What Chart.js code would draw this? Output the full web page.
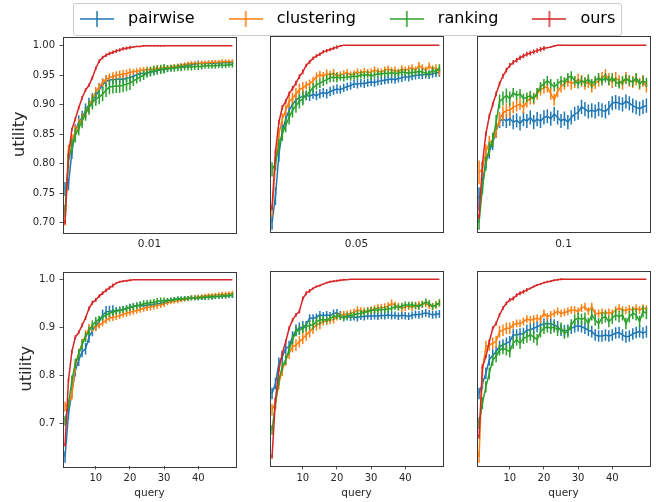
<!DOCTYPE html>
<html><head><meta charset="utf-8">
<script src="https://cdn.jsdelivr.net/npm/chart.js@4/dist/chart.umd.min.js"></script>
<style>
html,body{margin:0;padding:0;background:#fff;}
body{width:656px;height:502px;position:relative;overflow:hidden;font-family:'DejaVu Sans';}
canvas{position:absolute;}
#legendBox{position:absolute;left:73px;top:3px;width:547px;height:31px;border:1px solid #cccccc;border-radius:3px;background:rgba(255,255,255,0.8);}
</style></head><body>
<div id="legendBox"></div>
<canvas id="p0"></canvas><canvas id="p1"></canvas><canvas id="p2"></canvas>
<canvas id="p3"></canvas><canvas id="p4"></canvas><canvas id="p5"></canvas>
<canvas id="legend"></canvas>
<script>
// ---------------- data ----------------
const seriesNames = ['pairwise','clustering','ranking','ours'];
const topTitles = ['0.01','0.05','0.1'];
const xLabel = 'query';
const yLabel = 'utility';
const topYTicks = [0.70,0.75,0.80,0.85,0.90,0.95,1.00];
const bottomYTicks = [0.7,0.8,0.9,1.0];
const bottomXTicks = [10,20,30,40];
const queries = [1,2,3,4,5,6,7,8,9,10,11,12,13,14,15,16,17,18,19,20,21,22,23,24,25,26,27,28,29,30,31,32,33,34,35,36,37,38,39,40,41,42,43,44,45,46,47,48,49,50];

// top row, 0.01
const top001Pairwise = [
0.757,0.765,0.820,0.855,0.870,0.878,0.890,0.900,0.908,0.915,
0.925,0.934,0.940,0.942,0.943,0.943,0.944,0.943,0.945,0.946,
0.948,0.951,0.953,0.953,0.954,0.955,0.956,0.958,0.959,0.960,
0.961,0.962,0.963,0.964,0.965,0.966,0.967,0.968,0.969,0.970,
0.970,0.970,0.971,0.970,0.971,0.971,0.971,0.972,0.971,0.972];
const top001Clustering = [
0.700,0.822,0.840,0.855,0.866,0.876,0.886,0.896,0.910,0.922,
0.930,0.938,0.943,0.946,0.948,0.950,0.951,0.952,0.953,0.955,
0.956,0.957,0.958,0.959,0.960,0.960,0.961,0.962,0.962,0.963,
0.963,0.964,0.965,0.966,0.967,0.968,0.969,0.970,0.970,0.970,
0.971,0.971,0.971,0.972,0.972,0.972,0.973,0.973,0.973,0.973];
const top001Ranking = [
0.720,0.805,0.830,0.848,0.860,0.872,0.885,0.895,0.904,0.910,
0.913,0.918,0.925,0.930,0.931,0.932,0.932,0.933,0.935,0.937,
0.940,0.944,0.947,0.950,0.954,0.956,0.958,0.959,0.960,0.961,
0.961,0.962,0.962,0.963,0.963,0.964,0.964,0.964,0.965,0.965,
0.965,0.966,0.966,0.966,0.966,0.967,0.967,0.967,0.968,0.968];
const top001Ours = [
0.700,0.815,0.858,0.876,0.895,0.912,0.925,0.933,0.946,0.962,
0.974,0.980,0.984,0.987,0.989,0.991,0.993,0.995,0.996,0.997,
0.998,0.999,0.999,1.000,1.000,1.000,1.000,1.000,1.000,1.000,
1.000,1.000,1.000,1.000,1.000,1.000,1.000,1.000,1.000,1.000,
1.000,1.000,1.000,1.000,1.000,1.000,1.000,1.000,1.000,1.000];
const top001PairwiseErr = [
0.012,0.010,0.012,0.012,0.012,0.012,0.012,0.012,0.012,0.012,
0.012,0.010,0.010,0.008,0.008,0.008,0.008,0.008,0.007,0.007,
0.006,0.006,0.006,0.006,0.006,0.006,0.006,0.006,0.006,0.006,
0.005,0.005,0.005,0.005,0.005,0.005,0.005,0.005,0.005,0.005,
0.004,0.004,0.004,0.004,0.004,0.004,0.004,0.004,0.004,0.004];
const top001ClusteringErr = [
0.005,0.010,0.010,0.010,0.010,0.010,0.010,0.010,0.008,0.008,
0.007,0.007,0.007,0.007,0.007,0.007,0.007,0.007,0.007,0.007,
0.005,0.005,0.005,0.005,0.005,0.005,0.005,0.005,0.005,0.005,
0.004,0.004,0.004,0.004,0.004,0.004,0.004,0.004,0.004,0.004,
0.004,0.004,0.004,0.004,0.004,0.004,0.004,0.004,0.004,0.004];
const top001RankingErr = [
0.010,0.012,0.012,0.012,0.012,0.012,0.012,0.012,0.012,0.012,
0.012,0.012,0.012,0.012,0.012,0.012,0.012,0.012,0.012,0.012,
0.008,0.008,0.008,0.008,0.008,0.008,0.008,0.008,0.008,0.008,
0.006,0.006,0.006,0.006,0.006,0.006,0.006,0.006,0.006,0.006,
0.005,0.005,0.005,0.005,0.005,0.005,0.005,0.005,0.005,0.005];
const top001OursErr = [
0.003,0.003,0.003,0.003,0.003,0.003,0.003,0.003,0.003,0.003,
0.003,0.003,0.003,0.003,0.003,0.003,0.003,0.003,0.003,0.003,
0.001,0.001,0.001,0.001,0.001,0.001,0.001,0.001,0.001,0.001,
0,0,0,0,0,0,0,0,0,0,
0,0,0,0,0,0,0,0,0,0];

// top row, 0.05
const top005Pairwise = [
0.700,0.745,0.815,0.855,0.875,0.890,0.900,0.907,0.912,0.913,
0.915,0.914,0.917,0.915,0.918,0.920,0.918,0.922,0.924,0.926,
0.925,0.928,0.930,0.932,0.935,0.934,0.936,0.935,0.937,0.938,
0.937,0.939,0.940,0.941,0.942,0.943,0.942,0.944,0.945,0.947,
0.946,0.948,0.949,0.950,0.950,0.951,0.950,0.952,0.953,0.954];
const top005Clustering = [
0.720,0.800,0.850,0.875,0.890,0.905,0.910,0.918,0.925,0.928,
0.932,0.935,0.940,0.947,0.950,0.948,0.952,0.950,0.953,0.948,
0.950,0.952,0.954,0.950,0.952,0.955,0.953,0.956,0.954,0.955,
0.958,0.956,0.955,0.958,0.960,0.957,0.958,0.955,0.960,0.958,
0.960,0.962,0.958,0.966,0.962,0.958,0.965,0.960,0.962,0.955];
const top005Ranking = [
0.790,0.800,0.830,0.850,0.865,0.878,0.890,0.898,0.905,0.910,
0.915,0.922,0.928,0.933,0.936,0.939,0.942,0.945,0.946,0.945,
0.946,0.945,0.947,0.946,0.948,0.947,0.950,0.949,0.951,0.948,
0.950,0.952,0.951,0.953,0.952,0.954,0.952,0.953,0.955,0.954,
0.953,0.955,0.954,0.956,0.955,0.953,0.952,0.958,0.955,0.962];
const top005Ours = [
0.725,0.820,0.870,0.895,0.905,0.918,0.927,0.936,0.947,0.955,
0.966,0.972,0.978,0.982,0.985,0.989,0.991,0.993,0.995,0.997,
0.999,1.000,1.000,1.000,1.000,1.000,1.000,1.000,1.000,1.000,
1.000,1.000,1.000,1.000,1.000,1.000,1.000,1.000,1.000,1.000,
1.000,1.000,1.000,1.000,1.000,1.000,1.000,1.000,1.000,1.000];
const top005PairwiseErr = [
0.012,0.015,0.012,0.012,0.012,0.012,0.012,0.012,0.012,0.012,
0.008,0.008,0.008,0.008,0.008,0.008,0.008,0.008,0.008,0.008,
0.007,0.007,0.007,0.007,0.007,0.007,0.007,0.007,0.007,0.007,
0.007,0.007,0.007,0.007,0.007,0.007,0.007,0.007,0.007,0.007,
0.007,0.007,0.007,0.007,0.007,0.007,0.007,0.007,0.007,0.007];
const top005ClusteringErr = [
0.010,0.010,0.010,0.010,0.010,0.010,0.010,0.010,0.010,0.010,
0.007,0.007,0.007,0.007,0.007,0.007,0.007,0.007,0.007,0.007,
0.006,0.006,0.006,0.006,0.006,0.006,0.006,0.006,0.006,0.006,
0.006,0.006,0.006,0.006,0.006,0.006,0.006,0.006,0.006,0.006,
0.006,0.006,0.006,0.006,0.006,0.006,0.006,0.006,0.006,0.006];
const top005RankingErr = [
0.012,0.012,0.012,0.012,0.012,0.012,0.012,0.012,0.012,0.012,
0.008,0.008,0.008,0.008,0.008,0.008,0.008,0.008,0.008,0.008,
0.006,0.006,0.006,0.006,0.006,0.006,0.006,0.006,0.006,0.006,
0.006,0.006,0.006,0.006,0.006,0.006,0.006,0.006,0.006,0.006,
0.006,0.006,0.006,0.006,0.006,0.006,0.006,0.006,0.006,0.006];
const top005OursErr = [
0.004,0.004,0.004,0.004,0.004,0.004,0.004,0.004,0.004,0.004,
0.003,0.003,0.003,0.003,0.003,0.003,0.003,0.003,0.003,0.003,
0.001,0,0,0,0,0,0,0,0,0,
0,0,0,0,0,0,0,0,0,0,
0,0,0,0,0,0,0,0,0,0];

// top row, 0.1
const top01Pairwise = [
0.740,0.765,0.805,0.820,0.835,0.855,0.872,0.875,0.872,0.876,
0.870,0.873,0.868,0.875,0.872,0.878,0.870,0.875,0.872,0.878,
0.880,0.876,0.884,0.878,0.872,0.876,0.870,0.878,0.884,0.886,
0.896,0.892,0.888,0.890,0.888,0.892,0.890,0.888,0.894,0.902,
0.904,0.902,0.900,0.905,0.902,0.898,0.895,0.893,0.896,0.898];
const top01Clustering = [
0.785,0.790,0.820,0.835,0.840,0.855,0.875,0.885,0.890,0.890,
0.895,0.898,0.900,0.895,0.905,0.910,0.910,0.918,0.925,0.928,
0.930,0.918,0.908,0.922,0.930,0.935,0.940,0.935,0.938,0.942,
0.940,0.935,0.938,0.930,0.936,0.940,0.945,0.950,0.943,0.938,
0.945,0.940,0.935,0.945,0.940,0.938,0.942,0.935,0.940,0.930];
const top01Ranking = [
0.700,0.760,0.800,0.825,0.840,0.870,0.905,0.910,0.915,0.910,
0.920,0.915,0.918,0.910,0.912,0.915,0.910,0.920,0.930,0.935,
0.940,0.935,0.930,0.935,0.940,0.938,0.945,0.948,0.940,0.935,
0.940,0.938,0.943,0.935,0.940,0.945,0.940,0.945,0.940,0.945,
0.938,0.935,0.940,0.943,0.940,0.938,0.945,0.935,0.940,0.937];
const top01Ours = [
0.710,0.800,0.850,0.880,0.900,0.918,0.935,0.948,0.958,0.966,
0.971,0.975,0.979,0.982,0.985,0.987,0.989,0.991,0.993,0.995,
0.996,0.997,0.999,1.000,1.000,1.000,1.000,1.000,1.000,1.000,
1.000,1.000,1.000,1.000,1.000,1.000,1.000,1.000,1.000,1.000,
1.000,1.000,1.000,1.000,1.000,1.000,1.000,1.000,1.000,1.000];
const top01PairwiseErr = [
0.020,0.012,0.012,0.012,0.012,0.012,0.012,0.012,0.012,0.012,
0.012,0.012,0.012,0.012,0.012,0.012,0.012,0.012,0.012,0.012,
0.012,0.012,0.012,0.012,0.012,0.012,0.012,0.012,0.012,0.012,
0.012,0.012,0.012,0.012,0.012,0.012,0.012,0.012,0.012,0.012,
0.012,0.012,0.012,0.012,0.012,0.012,0.012,0.012,0.012,0.012];
const top01ClusteringErr = [
0.020,0.012,0.012,0.012,0.012,0.012,0.012,0.012,0.012,0.012,
0.010,0.010,0.010,0.010,0.010,0.010,0.010,0.010,0.010,0.010,
0.010,0.010,0.010,0.010,0.010,0.010,0.010,0.010,0.010,0.010,
0.010,0.010,0.010,0.010,0.010,0.010,0.010,0.010,0.010,0.010,
0.010,0.010,0.010,0.010,0.010,0.010,0.010,0.010,0.010,0.010];
const top01RankingErr = [
0.012,0.012,0.012,0.012,0.012,0.012,0.012,0.012,0.012,0.012,
0.008,0.008,0.008,0.008,0.008,0.008,0.008,0.008,0.008,0.008,
0.008,0.008,0.008,0.008,0.008,0.008,0.008,0.008,0.008,0.008,
0.008,0.008,0.008,0.008,0.008,0.008,0.008,0.008,0.008,0.008,
0.008,0.008,0.008,0.008,0.008,0.008,0.008,0.008,0.008,0.008];
const top01OursErr = [
0.004,0.004,0.004,0.004,0.004,0.004,0.004,0.004,0.004,0.004,
0.004,0.004,0.004,0.004,0.004,0.004,0.004,0.004,0.004,0.004,
0.001,0.001,0.001,0.001,0.001,0,0,0,0,0,
0,0,0,0,0,0,0,0,0,0,
0,0,0,0,0,0,0,0,0,0];

// bottom row, 0.01
const bottom001Pairwise = [
0.630,0.720,0.765,0.810,0.832,0.850,0.856,0.880,0.894,0.905,
0.912,0.926,0.933,0.934,0.935,0.936,0.937,0.938,0.940,0.943,
0.944,0.945,0.946,0.946,0.947,0.948,0.949,0.950,0.951,0.953,
0.955,0.957,0.959,0.960,0.960,0.961,0.961,0.962,0.962,0.962,
0.963,0.963,0.964,0.964,0.965,0.965,0.966,0.966,0.967,0.967];
const bottom001Clustering = [
0.735,0.740,0.760,0.818,0.846,0.867,0.884,0.898,0.901,0.903,
0.905,0.910,0.915,0.920,0.921,0.923,0.925,0.928,0.930,0.932,
0.934,0.936,0.938,0.940,0.942,0.943,0.945,0.946,0.948,0.950,
0.952,0.954,0.955,0.956,0.958,0.959,0.961,0.962,0.963,0.964,
0.965,0.966,0.967,0.967,0.968,0.969,0.970,0.970,0.971,0.972];
const bottom001Ranking = [
0.705,0.740,0.790,0.825,0.845,0.865,0.880,0.893,0.905,0.912,
0.918,0.922,0.926,0.930,0.932,0.934,0.936,0.938,0.940,0.942,
0.944,0.946,0.948,0.950,0.951,0.952,0.953,0.955,0.956,0.956,
0.957,0.958,0.959,0.960,0.960,0.961,0.961,0.962,0.962,0.962,
0.963,0.963,0.964,0.964,0.965,0.965,0.966,0.966,0.967,0.968];
const bottom001Ours = [
0.655,0.790,0.850,0.880,0.890,0.905,0.920,0.940,0.952,0.958,
0.966,0.972,0.978,0.983,0.988,0.993,0.996,0.997,0.998,0.999,
1.000,1.000,1.000,1.000,1.000,1.000,1.000,1.000,1.000,1.000,
1.000,1.000,1.000,1.000,1.000,1.000,1.000,1.000,1.000,1.000,
1.000,1.000,1.000,1.000,1.000,1.000,1.000,1.000,1.000,1.000];
const bottom001PairwiseErr = [
0.012,0.012,0.012,0.012,0.012,0.012,0.012,0.012,0.012,0.012,
0.012,0.012,0.012,0.012,0.012,0.007,0.007,0.007,0.007,0.007,
0.007,0.007,0.007,0.007,0.007,0.007,0.007,0.007,0.007,0.007,
0.005,0.005,0.005,0.005,0.005,0.005,0.005,0.005,0.005,0.005,
0.005,0.005,0.005,0.005,0.005,0.005,0.005,0.005,0.005,0.005];
const bottom001ClusteringErr = [
0.010,0.010,0.010,0.010,0.010,0.010,0.010,0.010,0.010,0.010,
0.007,0.007,0.007,0.007,0.007,0.007,0.007,0.007,0.007,0.007,
0.007,0.007,0.007,0.007,0.007,0.007,0.007,0.007,0.007,0.007,
0.005,0.005,0.005,0.005,0.005,0.005,0.005,0.005,0.005,0.005,
0.005,0.005,0.005,0.005,0.005,0.005,0.005,0.005,0.005,0.005];
const bottom001RankingErr = [
0.010,0.010,0.010,0.010,0.010,0.010,0.010,0.010,0.010,0.010,
0.007,0.007,0.007,0.007,0.007,0.007,0.007,0.007,0.007,0.007,
0.007,0.007,0.007,0.007,0.007,0.007,0.007,0.007,0.007,0.007,
0.005,0.005,0.005,0.005,0.005,0.005,0.005,0.005,0.005,0.005,
0.005,0.005,0.005,0.005,0.005,0.005,0.005,0.005,0.005,0.005];
const bottom001OursErr = [
0.004,0.004,0.004,0.004,0.004,0.004,0.004,0.004,0.004,0.004,
0.004,0.004,0.004,0.004,0.004,0.002,0.002,0.002,0.002,0.002,
0,0,0,0,0,0,0,0,0,0,
0,0,0,0,0,0,0,0,0,0,
0,0,0,0,0,0,0,0,0,0];

// bottom row, 0.05
const bottom005Pairwise = [
0.762,0.783,0.825,0.839,0.856,0.860,0.880,0.894,0.898,0.901,
0.905,0.919,0.919,0.921,0.926,0.924,0.926,0.924,0.929,0.930,
0.926,0.923,0.922,0.921,0.922,0.920,0.923,0.922,0.924,0.923,
0.924,0.923,0.925,0.924,0.926,0.924,0.925,0.923,0.925,0.924,
0.923,0.925,0.927,0.926,0.928,0.930,0.928,0.926,0.927,0.928];
const bottom005Clustering = [
0.728,0.742,0.783,0.811,0.832,0.846,0.860,0.863,0.870,0.877,
0.884,0.891,0.898,0.905,0.908,0.912,0.913,0.915,0.916,0.922,
0.924,0.926,0.927,0.929,0.931,0.936,0.934,0.933,0.935,0.936,
0.938,0.940,0.941,0.942,0.944,0.950,0.946,0.943,0.940,0.942,
0.944,0.942,0.945,0.947,0.948,0.950,0.946,0.943,0.947,0.951];
const bottom005Ranking = [
0.686,0.742,0.790,0.818,0.832,0.853,0.874,0.891,0.894,0.898,
0.901,0.905,0.905,0.912,0.915,0.916,0.915,0.919,0.922,0.924,
0.922,0.919,0.924,0.925,0.926,0.928,0.929,0.931,0.933,0.935,
0.936,0.936,0.937,0.937,0.938,0.939,0.943,0.942,0.944,0.947,
0.946,0.947,0.945,0.943,0.948,0.953,0.950,0.943,0.946,0.951];
const bottom005Ours = [
0.630,0.749,0.811,0.846,0.870,0.898,0.915,0.926,0.933,0.960,
0.971,0.976,0.981,0.985,0.987,0.990,0.993,0.995,0.996,0.997,
0.998,0.999,0.999,1.000,1.000,1.000,1.000,1.000,1.000,1.000,
1.000,1.000,1.000,1.000,1.000,1.000,1.000,1.000,1.000,1.000,
1.000,1.000,1.000,1.000,1.000,1.000,1.000,1.000,1.000,1.000];
const bottom005PairwiseErr = [
0.012,0.012,0.012,0.012,0.012,0.012,0.012,0.012,0.012,0.012,
0.008,0.008,0.008,0.008,0.008,0.008,0.008,0.008,0.008,0.008,
0.008,0.008,0.008,0.008,0.008,0.008,0.008,0.008,0.008,0.008,
0.008,0.008,0.008,0.008,0.008,0.008,0.008,0.008,0.008,0.008,
0.008,0.008,0.008,0.008,0.008,0.008,0.008,0.008,0.008,0.008];
const bottom005ClusteringErr = [
0.012,0.012,0.012,0.012,0.012,0.012,0.012,0.012,0.012,0.012,
0.012,0.012,0.012,0.012,0.012,0.008,0.008,0.008,0.008,0.008,
0.008,0.008,0.008,0.008,0.008,0.008,0.008,0.008,0.008,0.008,
0.008,0.008,0.008,0.008,0.008,0.008,0.008,0.008,0.008,0.008,
0.008,0.008,0.008,0.008,0.008,0.008,0.008,0.008,0.008,0.008];
const bottom005RankingErr = [
0.010,0.010,0.010,0.010,0.010,0.010,0.010,0.010,0.010,0.010,
0.010,0.010,0.010,0.010,0.010,0.007,0.007,0.007,0.007,0.007,
0.007,0.007,0.007,0.007,0.007,0.007,0.007,0.007,0.007,0.007,
0.007,0.007,0.007,0.007,0.007,0.007,0.007,0.007,0.007,0.007,
0.007,0.007,0.007,0.007,0.007,0.007,0.007,0.007,0.007,0.007];
const bottom005OursErr = [
0.004,0.004,0.004,0.004,0.004,0.004,0.004,0.004,0.004,0.004,
0.004,0.004,0.002,0.002,0.002,0.002,0.002,0.002,0.002,0.002,
0.002,0.002,0,0,0,0,0,0,0,0,
0,0,0,0,0,0,0,0,0,0,
0,0,0,0,0,0,0,0,0,0];

// bottom row, 0.1
const bottom01Pairwise = [
0.762,0.783,0.804,0.832,0.842,0.849,0.860,0.863,0.867,0.870,
0.884,0.884,0.886,0.887,0.894,0.895,0.898,0.901,0.905,0.907,
0.908,0.907,0.905,0.901,0.894,0.893,0.894,0.898,0.901,0.903,
0.901,0.898,0.894,0.891,0.884,0.882,0.882,0.884,0.882,0.884,
0.888,0.889,0.884,0.880,0.882,0.886,0.889,0.891,0.888,0.891];
const bottom01Clustering = [
0.630,0.811,0.860,0.863,0.867,0.870,0.891,0.894,0.898,0.898,
0.905,0.908,0.908,0.912,0.917,0.915,0.917,0.919,0.917,0.929,
0.922,0.926,0.929,0.933,0.929,0.931,0.933,0.936,0.936,0.933,
0.940,0.943,0.933,0.943,0.929,0.929,0.931,0.929,0.931,0.929,
0.936,0.940,0.936,0.935,0.938,0.936,0.940,0.936,0.940,0.938];
const bottom01Ranking = [
0.700,0.742,0.776,0.804,0.832,0.839,0.853,0.856,0.853,0.849,
0.867,0.874,0.867,0.877,0.880,0.884,0.880,0.874,0.891,0.898,
0.901,0.898,0.901,0.894,0.898,0.888,0.891,0.905,0.915,0.919,
0.917,0.919,0.908,0.926,0.915,0.908,0.919,0.922,0.912,0.919,
0.926,0.922,0.926,0.908,0.922,0.929,0.926,0.912,0.933,0.929];
const bottom01Ours = [
0.672,0.818,0.839,0.870,0.898,0.908,0.926,0.940,0.950,0.957,
0.960,0.967,0.971,0.974,0.978,0.981,0.985,0.988,0.990,0.993,
0.995,0.996,0.998,0.999,1.000,1.000,1.000,1.000,1.000,1.000,
1.000,1.000,1.000,1.000,1.000,1.000,1.000,1.000,1.000,1.000,
1.000,1.000,1.000,1.000,1.000,1.000,1.000,1.000,1.000,1.000];
const bottom01PairwiseErr = [
0.012,0.012,0.012,0.012,0.012,0.012,0.012,0.012,0.012,0.012,
0.012,0.012,0.012,0.012,0.012,0.012,0.012,0.012,0.012,0.012,
0.012,0.012,0.012,0.012,0.012,0.012,0.012,0.012,0.012,0.012,
0.012,0.012,0.012,0.012,0.012,0.012,0.012,0.012,0.012,0.012,
0.012,0.012,0.012,0.012,0.012,0.012,0.012,0.012,0.012,0.012];
const bottom01ClusteringErr = [
0.012,0.012,0.012,0.012,0.012,0.012,0.012,0.012,0.012,0.012,
0.008,0.008,0.008,0.008,0.008,0.008,0.008,0.008,0.008,0.008,
0.008,0.008,0.008,0.008,0.008,0.008,0.008,0.008,0.008,0.008,
0.008,0.008,0.008,0.008,0.008,0.008,0.008,0.008,0.008,0.008,
0.008,0.008,0.008,0.008,0.008,0.008,0.008,0.008,0.008,0.008];
const bottom01RankingErr = [
0.012,0.012,0.012,0.012,0.012,0.012,0.012,0.012,0.012,0.012,
0.012,0.012,0.012,0.012,0.012,0.012,0.012,0.012,0.012,0.012,
0.012,0.012,0.012,0.012,0.012,0.012,0.012,0.012,0.012,0.012,
0.012,0.012,0.012,0.012,0.012,0.012,0.012,0.012,0.012,0.012,
0.012,0.012,0.012,0.012,0.012,0.012,0.012,0.012,0.012,0.012];
const bottom01OursErr = [
0.004,0.004,0.004,0.004,0.004,0.004,0.004,0.004,0.004,0.004,
0.004,0.004,0.004,0.004,0.004,0.002,0.002,0.002,0.002,0.002,
0.002,0.002,0.002,0.002,0.002,0,0,0,0,0,
0,0,0,0,0,0,0,0,0,0,
0,0,0,0,0,0,0,0,0,0];

// ---------------- style / layout ----------------
const FONT = "'DejaVu Sans'";
const TXT = '#262626';
const TICK = '#262626';
const SPINE = '#3a3a3a';
const colors = ['#1f77b4','#ff7f0e','#2ca02c','#d62728'];
const colLeft = [63, 270, 477];
const panelW = 173;
const rowTop = [36, 271];
const panelH = [196, 195];
const LW = 60, PADT = 10, PADR = 10;
const BH = [20, 36];
const xMin = 0.4, xMax = 51.05;
const yRange = [[0.6841, 1.0158], [0.611, 1.0173]];
const yTitlePad = [7.4, 14.1];
const xTitlePad = [1.7, 2.7];

Chart.defaults.font.family = FONT;

const panels = [
  {row:0, col:0, title: topTitles[0], series:[top001Pairwise, top001Clustering, top001Ranking, top001Ours], errs:[top001PairwiseErr, top001ClusteringErr, top001RankingErr, top001OursErr]},
  {row:0, col:1, title: topTitles[1], series:[top005Pairwise, top005Clustering, top005Ranking, top005Ours], errs:[top005PairwiseErr, top005ClusteringErr, top005RankingErr, top005OursErr]},
  {row:0, col:2, title: topTitles[2], series:[top01Pairwise, top01Clustering, top01Ranking, top01Ours], errs:[top01PairwiseErr, top01ClusteringErr, top01RankingErr, top01OursErr]},
  {row:1, col:0, title: xLabel, series:[bottom001Pairwise, bottom001Clustering, bottom001Ranking, bottom001Ours], errs:[bottom001PairwiseErr, bottom001ClusteringErr, bottom001RankingErr, bottom001OursErr]},
  {row:1, col:1, title: xLabel, series:[bottom005Pairwise, bottom005Clustering, bottom005Ranking, bottom005Ours], errs:[bottom005PairwiseErr, bottom005ClusteringErr, bottom005RankingErr, bottom005OursErr]},
  {row:1, col:2, title: xLabel, series:[bottom01Pairwise, bottom01Clustering, bottom01Ranking, bottom01Ours], errs:[bottom01PairwiseErr, bottom01ClusteringErr, bottom01RankingErr, bottom01OursErr]}
];

const errorBarPlugin = {
  id: 'errorBars',
  afterDatasetDraw(chart, args) {
    const ds = chart.data.datasets[args.index];
    const errs = ds.errors;
    if (!errs) return;
    const xs = chart.scales.x, ys = chart.scales.y, a = chart.chartArea, ctx = chart.ctx;
    ctx.save();
    ctx.beginPath(); ctx.rect(a.left, a.top, a.right - a.left, a.bottom - a.top); ctx.clip();
    ctx.strokeStyle = ds.borderColor; ctx.lineWidth = 1.5;
    ctx.beginPath();
    ds.data.forEach((p, i) => {
      const e = errs[i];
      if (!e) return;
      const px = xs.getPixelForValue(p.x);
      ctx.moveTo(px, ys.getPixelForValue(p.y - e));
      ctx.lineTo(px, ys.getPixelForValue(p.y + e));
    });
    ctx.stroke();
    ctx.restore();
  }
};
const framePlugin = {
  id: 'frame',
  afterDraw(chart) {
    const a = chart.chartArea, c = chart.ctx;
    c.save(); c.strokeStyle = SPINE; c.lineWidth = 1;
    c.strokeRect(Math.round(a.left) + 0.5, Math.round(a.top) + 0.5, Math.round(a.right - a.left), Math.round(a.bottom - a.top));
    c.restore();
  }
};

panels.forEach((p, idx) => {
  const row = p.row, col = p.col;
  const cv = document.getElementById('p' + idx);
  cv.width = LW + panelW + PADR;
  cv.height = PADT + panelH[row] + BH[row];
  cv.style.left = (colLeft[col] - LW) + 'px';
  cv.style.top = (rowTop[row] - PADT) + 'px';
  const showY = col === 0;
  const showX = row === 1;
  const datasets = p.series.map((s, i) => ({
    label: seriesNames[i],
    data: queries.map((q, j) => ({x: q, y: s[j]})),
    errors: p.errs[i],
    borderColor: colors[i], backgroundColor: colors[i],
    borderWidth: 1.5, pointRadius: 0, pointHoverRadius: 0, tension: 0, fill: false,
    order: 3 - i
  }));
  new Chart(cv, {
    type: 'line',
    data: {datasets},
    options: {
      responsive: false, animation: false, devicePixelRatio: 1, events: [],
      layout: {padding: {top: PADT, right: PADR, left: 0, bottom: 0}},
      plugins: {legend: {display: false}, tooltip: {enabled: false}},
      scales: {
        x: {
          type: 'linear', min: xMin, max: xMax,
          afterFit(s) { s.height = BH[row]; },
          afterBuildTicks(s) { s.ticks = showX ? bottomXTicks.map(v => ({value: v})) : []; },
          ticks: {display: showX, autoSkip: false, maxRotation: 0, padding: 3, font: {family: FONT, size: 10}, color: TXT},
          grid: {display: showX, drawOnChartArea: false, drawTicks: true, tickLength: 3.5, color: TICK, lineWidth: 0.8},
          border: {display: false},
          title: {display: true, text: p.title, font: {family: FONT, size: 10.5}, color: TXT, padding: {top: 0, bottom: xTitlePad[row]}}
        },
        y: {
          type: 'linear', min: yRange[row][0], max: yRange[row][1],
          afterFit(s) { s.width = LW; },
          afterBuildTicks(s) { s.ticks = (row === 0 ? topYTicks : bottomYTicks).map(v => ({value: v})); },
          ticks: {display: showY, autoSkip: false, padding: 4.5, font: {family: FONT, size: 10}, color: TXT,
                  callback: v => Number(v).toFixed(row === 0 ? 2 : 1)},
          grid: {display: showY, drawOnChartArea: false, drawTicks: true, tickLength: 3.5, color: TICK, lineWidth: 0.8},
          border: {display: false},
          title: {display: showY, text: yLabel, font: {family: FONT, size: 16}, color: TXT, padding: {top: yTitlePad[row], bottom: 0}}
        }
      }
    },
    plugins: [errorBarPlugin, framePlugin]
  });
});

// ---------------- legend ----------------
function makeMarker(color) {
  const c = document.createElement('canvas');
  c.width = 34; c.height = 16;
  const g = c.getContext('2d');
  g.strokeStyle = color; g.lineWidth = 1.5;
  g.beginPath(); g.moveTo(0, 8); g.lineTo(34, 8); g.moveTo(17, 0); g.lineTo(17, 16); g.stroke();
  return c;
}
const markers = colors.map(makeMarker);
const lc = document.getElementById('legend');
lc.width = 620; lc.height = 100;
lc.style.left = '46px'; lc.style.top = '-17px';
new Chart(lc, {
  type: 'line',
  data: {datasets: seriesNames.map((n, i) => ({label: n, data: [], borderColor: colors[i]}))},
  options: {
    responsive: false, animation: false, devicePixelRatio: 1, events: [],
    layout: {padding: 0},
    scales: {x: {display: false}, y: {display: false}},
    plugins: {
      tooltip: {enabled: false},
      legend: {
        display: true, position: 'top', align: 'start',
        labels: {
          usePointStyle: true, pointStyleWidth: 46, padding: 28, color: TXT,
          font: {family: FONT, size: 16},
          generateLabels: () => seriesNames.map((n, i) => ({
            text: n, pointStyle: markers[i], fillStyle: colors[i], strokeStyle: colors[i],
            lineWidth: 0, hidden: false, datasetIndex: i
          }))
        }
      }
    }
  }
});
</script>
</body></html>
